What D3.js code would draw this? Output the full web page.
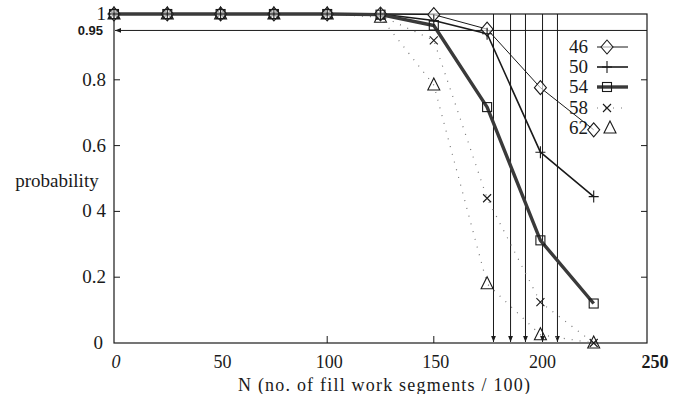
<!DOCTYPE html>
<html>
<head>
<meta charset="utf-8">
<script src="https://cdn.jsdelivr.net/npm/d3@7"></script>
<style>
  body { margin: 0; background: #fff; }
  svg { display: block; }
  .serif { font-family: 'Liberation Serif', 'Times New Roman', serif; }
  .sans { font-family: 'Liberation Sans', Arial, sans-serif; }
</style>
</head>
<body>
<div id="chart"></div>
<script>
// data
const sizes = [0, 25, 50, 75, 100, 125, 150, 175, 200, 225];
const p46 = [1, 1, 1, 1, 1, 1, 0.998, 0.954, 0.776, 0.648];
const p50 = [1, 1, 1, 1, 1, 1, 0.98, 0.94, 0.58, 0.445];
const p54 = [1, 1, 1, 1, 1, 0.998, 0.965, 0.717, 0.312, 0.12];
const p58 = [1, 1, 1, 1, 1, 0.995, 0.92, 0.44, 0.124, 0.0];
const p62 = [1, 1, 1, 1, 1, 0.99, 0.784, 0.18, 0.025, 0.0];
const seriesNames = ['46', '50', '54', '58', '62'];
const thresholds = [178, 186, 193, 201, 208];
const threshold = 0.95;
const xTicks = [0, 50, 100, 150, 200, 250];
const yTicks = [0, 0.2, 0.4, 0.6, 0.8, 1];
const yTickLabels = ['0', '0.2', '0 4', '0.6', '0.8', '1'];

const W = 673, H = 394;
const Plot = { left: 114, right: 647, top: 14, bottom: 343 };
const ink = '#1a1a1a';

const x = d3.scaleLinear().domain([0, 250]).range([Plot.left, Plot.right]);
const y = d3.scaleLinear().domain([0, 1]).range([Plot.bottom, Plot.top]);

const svg = d3.select('#chart').append('svg')
    .attr('width', W)
    .attr('height', H);

svg.append('defs').selectAll('marker')
    .data(['arrow'])
    .join('marker')
    .attr('id', String)
    .attr('viewBox', '0 -5 10 10')
    .attr('refX', 10)
    .attr('refY', 0)
    .attr('markerWidth', 6)
    .attr('markerHeight', 6)
    .attr('markerUnits', 'userSpaceOnUse')
    .attr('orient', 'auto')
    .append('path')
    .attr('d', 'M0,-4L10,0L0,4Z')
    .attr('fill', ink);

// frame
svg.append('rect')
    .attr('x', Plot.left)
    .attr('y', Plot.top)
    .attr('width', Plot.right - Plot.left)
    .attr('height', Plot.bottom - Plot.top)
    .attr('fill', 'none')
    .attr('stroke', ink)
    .attr('stroke-width', 1.2);

// inward ticks on both sides
const tickG = svg.append('g').attr('stroke', ink).attr('stroke-width', 1);
tickG.selectAll('.yl').data(yTicks.slice(1, -1)).join('line')
    .attr('x1', Plot.left).attr('x2', Plot.left + 6)
    .attr('y1', d => y(d)).attr('y2', d => y(d));
tickG.selectAll('.yr').data(yTicks.slice(1, -1)).join('line')
    .attr('x1', Plot.right).attr('x2', Plot.right - 6)
    .attr('y1', d => y(d)).attr('y2', d => y(d));
tickG.selectAll('.xb').data([100, 150]).join('line')
    .attr('x1', d => x(d)).attr('x2', d => x(d))
    .attr('y1', Plot.bottom).attr('y2', Plot.bottom - 7);

// y tick labels
svg.append('g')
    .attr('class', 'serif')
    .attr('font-size', 19)
    .attr('fill', ink)
    .attr('text-anchor', 'end')
    .selectAll('text')
    .data(yTicks)
    .join('text')
    .attr('x', d => (d === 0 ? 103 : 106))
    .attr('y', d => y(d) + 6)
    .text((d, i) => yTickLabels[i]);

svg.append('text')
    .attr('class', 'sans')
    .attr('x', 103)
    .attr('y', y(threshold) + 5)
    .attr('text-anchor', 'end')
    .attr('font-weight', 'bold')
    .attr('font-size', 13)
    .attr('fill', ink)
    .text('0.95');

// x tick labels
svg.append('g')
    .attr('class', 'serif')
    .attr('font-size', 18)
    .attr('fill', ink)
    .attr('text-anchor', 'middle')
    .selectAll('text')
    .data(xTicks)
    .join('text')
    .attr('x', d => (d === 250 ? x(d) + 8 : x(d) + 2))
    .attr('y', 368)
    .attr('font-style', d => (d === 0 ? 'italic' : null))
    .attr('font-weight', d => (d === 250 ? 'bold' : null))
    .text(d => d);

svg.append('text')
    .attr('class', 'serif')
    .attr('x', 384)
    .attr('y', 391)
    .attr('text-anchor', 'middle')
    .attr('font-size', 18)
    .attr('textLength', 292)
    .attr('lengthAdjust', 'spacing')
    .attr('fill', ink)
    .text('N (no. of fill work segments / 100)');

svg.append('text')
    .attr('class', 'serif')
    .attr('x', 57)
    .attr('y', 187)
    .attr('text-anchor', 'middle')
    .attr('font-size', 19)
    .attr('fill', ink)
    .text('probability');

// threshold arrow and limit arrows
svg.append('line')
    .attr('x1', Plot.right).attr('x2', Plot.left + 1)
    .attr('y1', y(threshold)).attr('y2', y(threshold))
    .attr('stroke', ink).attr('stroke-width', 1)
    .attr('marker-end', 'url(#arrow)');

svg.append('g').selectAll('line')
    .data(thresholds)
    .join('line')
    .attr('x1', d => x(d)).attr('x2', d => x(d))
    .attr('y1', Plot.top).attr('y2', Plot.bottom - 1)
    .attr('stroke', ink).attr('stroke-width', 1)
    .attr('marker-end', 'url(#arrow)');

// series
const styles = {
    46: { width: 1, dash: null, color: ink },
    50: { width: 1.6, dash: null, color: ink },
    54: { width: 3.4, dash: null, color: '#3a3a3a' },
    58: { width: 1.2, dash: '1 7', color: '#777' },
    62: { width: 1.2, dash: '1 7', color: '#777' },
};
const values = { 46: p46, 50: p50, 54: p54, 58: p58, 62: p62 };

function drawMarker(g, name, cx, cy) {
    const m = g.append('g').attr('transform', `translate(${cx},${cy})`)
        .attr('fill', 'none').attr('stroke', ink).attr('stroke-width', 1.1);
    if (name === '46') {
        m.append('path').attr('d', 'M0,-7L6,0L0,7L-6,0Z').attr('fill', 'rgba(255,255,255,0.6)');
    } else if (name === '50') {
        m.append('path').attr('d', 'M-5,0H5M0,-6V6');
    } else if (name === '54') {
        m.append('rect').attr('x', -4.5).attr('y', -4.5).attr('width', 9).attr('height', 9);
    } else if (name === '58') {
        m.append('path').attr('d', 'M-4,-4L4,4M-4,4L4,-4');
    } else {
        m.append('path').attr('d', 'M0,-7L6,5L-6,5Z');
    }
}

const line = d3.line().x((d, i) => x(sizes[i])).y(d => y(d));

const order = ['62', '58', '46', '50', '54'];
order.forEach(name => {
    const s = styles[name];
    svg.append('path')
        .datum(values[name])
        .attr('d', line)
        .attr('fill', 'none')
        .attr('stroke', s.color)
        .attr('stroke-width', s.width)
        .attr('stroke-dasharray', s.dash)
        .attr('stroke-linejoin', 'round');
});
const markG = svg.append('g');
order.forEach(name => {
    values[name].forEach((v, i) => drawMarker(markG, name, x(sizes[i]), y(v)));
});

// legend
const legend = svg.append('g');
const rowY = [47, 67, 87, 108, 128];
seriesNames.forEach((name, i) => {
    const s = styles[name];
    legend.append('text')
        .attr('class', 'serif')
        .attr('x', 588)
        .attr('y', rowY[i] + 6)
        .attr('text-anchor', 'end')
        .attr('font-size', 19)
        .attr('fill', ink)
        .text(name);
    if (name !== '62') {
        legend.append('line')
            .attr('x1', 597).attr('x2', 628)
            .attr('y1', rowY[i]).attr('y2', rowY[i])
            .attr('stroke', s.color)
            .attr('stroke-width', s.width)
            .attr('stroke-dasharray', s.dash);
    }
    drawMarker(legend, name, name === '62' ? 610 : 607, rowY[i]);
});
</script>
</body>
</html>
